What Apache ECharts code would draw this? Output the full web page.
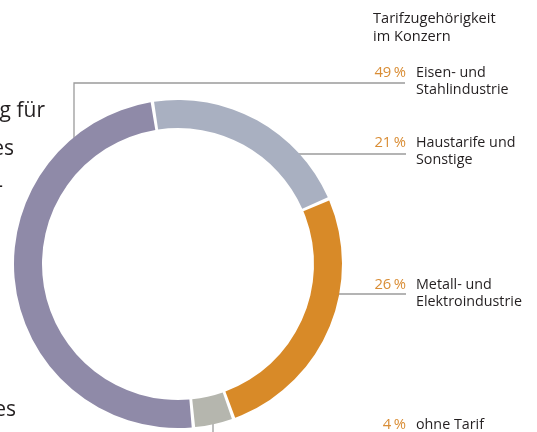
<!DOCTYPE html>
<html>
<head>
<meta charset="utf-8">
<script src="https://cdn.jsdelivr.net/npm/echarts@6/dist/echarts.min.js"></script>
<style>
html,body{margin:0;padding:0;background:#fff;}
#c{width:537px;height:432px;}
</style>
</head>
<body>
<div id="c"></div>
<script>
// ---- data ----
const categories = ['Haustarife und\nSonstige', 'Metall- und\nElektroindustrie', 'ohne Tarif', 'Eisen- und\nStahlindustrie'];
const shares = [21, 26, 4, 49];
const percentLabels = ['21\u2009%', '26\u2009%', '4\u2009%', '49\u2009%'];
const titleText = 'Tarifzugehörigkeit\nim Konzern';
const sideText = ['g für', 'es', '-', 'es'];

// ---- layout / style (not data) ----
const FONT = '"Open Sans", sans-serif';
const FS = 14.3;
const PFS = 14.8;
const PW = 34;   // width of percent column (right aligned)
const GAP = 10;
const sliceColors = ['#a9b0c1', '#d88a28', '#b5b6ae', '#8f8aa8'];
const labelPos = [[372, 134], [372, 276], [372, 416], [372, 64]];
const linePts = [
  [[280, 154], [343, 154], [406, 154]],
  [[325, 294], [365, 294], [406, 294]],
  [[213, 413], [213, 422], [213, 432]],
  [[74, 155], [74, 83], [405, 83]]
];
const sidePos = [[45, 111], [14, 149], [3, 186], [16, 410]];

const mctx = document.createElement('canvas').getContext('2d');
mctx.font = PFS + 'px ' + FONT;
const rich = {
  p: {color: '#d98d35', fontSize: PFS, fontFamily: FONT, lineHeight: 17},
  g: {width: GAP, fontSize: FS, lineHeight: 17},
  s: {width: PW + GAP, fontSize: FS, lineHeight: 17},
  n: {width: 120, color: '#231f20', fontSize: FS, fontFamily: FONT, lineHeight: 17}
};
percentLabels.forEach((t, i) => {
  rich['a' + i] = {width: Math.max(0.5, PW - mctx.measureText(t).width), fontSize: FS, lineHeight: 17};
});

const chart = echarts.init(document.getElementById('c'), null, {renderer: 'canvas'});
chart.setOption({
  animation: false,
  backgroundColor: '#ffffff',
  graphic: [
    {type: 'text', left: 373, top: 10, style: {text: titleText, font: '14.6px ' + FONT, fill: '#231f20', lineHeight: 18}},
  ].concat(sideText.map((t, i) => ({
    type: 'text', x: sidePos[i][0], y: sidePos[i][1], z: -1,
    style: {text: t, font: '21px ' + FONT, fill: '#231f20', align: 'right', verticalAlign: 'middle'}
  }))),
  series: [{
    type: 'pie',
    center: [178, 264],
    radius: [136, 164],
    startAngle: 99,
    clockwise: true,
    padAngle: 1.2,
    avoidLabelOverlap: false,
    data: categories.map((c, i) => ({name: c, value: shares[i], itemStyle: {color: sliceColors[i]}})),
    label: {
      show: true,
      align: 'left',
      formatter: (p) => {
        const i = p.dataIndex;
        const parts = categories[i].split('\n');
        let s = '{a' + i + '| }{p|' + percentLabels[i] + '}{g| }{n|' + parts[0] + '}';
        if (parts[1]) s += '\n{s| }{n|' + parts[1] + '}';
        return s;
      },
      rich: rich
    },
    labelLine: {show: true, lineStyle: {color: '#9b9b9b', width: 1.3}},
    labelLayout: (params) => {
      const i = params.dataIndex;
      return {x: labelPos[i][0], y: labelPos[i][1], align: 'left', verticalAlign: 'top', labelLinePoints: linePts[i]};
    },
    emphasis: {disabled: true}
  }]
});
</script>
</body>
</html>
